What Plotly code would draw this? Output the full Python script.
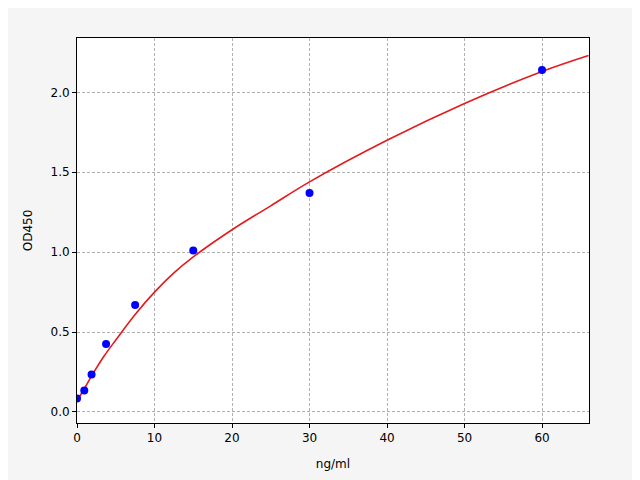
import plotly.graph_objects as go

# standard points
conc = [0, 0.94, 1.88, 3.75, 7.5, 15, 30, 60]
od = [0.085, 0.135, 0.235, 0.425, 0.67, 1.01, 1.37, 2.14]

# fitted curve
curve_x = [0, 1, 2, 3.5, 5, 7.5, 10, 12.5, 15, 20, 25, 30, 40, 50, 60, 66]
curve_y = [0.07, 0.15, 0.235, 0.35, 0.45, 0.61, 0.75, 0.87, 0.97, 1.14, 1.29, 1.44, 1.70, 1.93, 2.13, 2.23]

fig = go.Figure()
fig.add_trace(go.Scatter(x=curve_x, y=curve_y, mode='lines', line_shape='spline',
                         line=dict(color='#e41a1c', width=1.6)))
fig.add_trace(go.Scatter(x=conc, y=od, mode='markers',
                         marker=dict(color='#0000ff', size=8)))

axis = dict(showline=True, linecolor='black', linewidth=1, mirror=True,
            showgrid=True, gridcolor='#b0b0b0', griddash='3px,2px', zeroline=False,
            ticks='outside', ticklen=4, tickcolor='black',
            tickfont=dict(family='DejaVu Sans', size=12, color='black'))
fig.update_xaxes(axis, range=[0, 66.06], dtick=10,
                 title=dict(text='ng/ml', font=dict(family='DejaVu Sans', size=12, color='black')))
fig.update_yaxes(axis, range=[-0.069, 2.34], dtick=0.5, tickformat='.1f',
                 title=dict(text='OD450', font=dict(family='DejaVu Sans', size=12, color='black')))
fig.update_layout(width=632, height=472, showlegend=False,
                  paper_bgcolor='#f5f5f5', plot_bgcolor='white',
                  margin=dict(l=69, r=51, t=30, b=57))
fig.write_html("out.html")
